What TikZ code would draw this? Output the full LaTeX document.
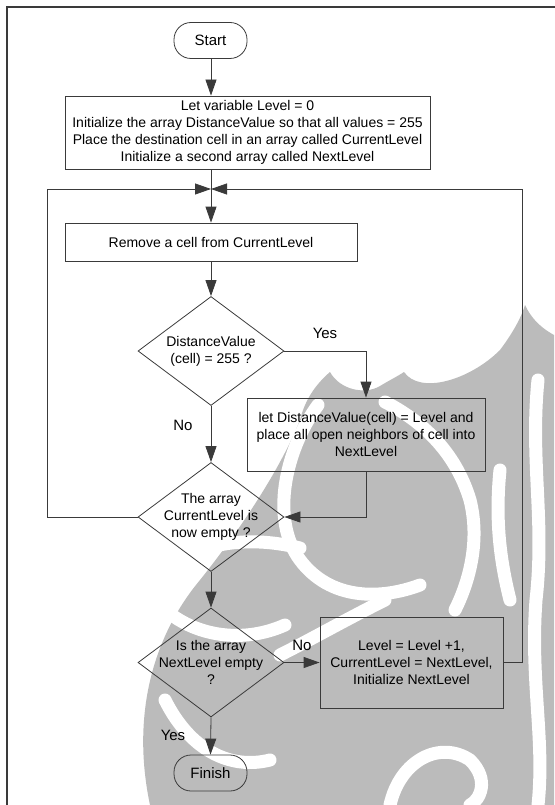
\documentclass[tikz,border=0pt]{standalone}
\usepackage{fontspec}
\setmainfont{Liberation Sans}
\usetikzlibrary{shapes.geometric,arrows.meta}
\definecolor{ln}{HTML}{3A3A3A}
\definecolor{wm}{HTML}{BBBBBB}
\tikzset{
  box/.style={draw=ln, line width=0.8pt, rectangle, inner sep=2pt, align=center, font=\fontsize{14}{16.8}\selectfont},
  term/.style={draw=ln, line width=0.8pt, rectangle, rounded corners=17pt, minimum width=73pt, minimum height=36pt, inner sep=0pt, font=\fontsize{15}{18}\selectfont},
  dec/.style={draw=ln, line width=0.8pt, diamond, minimum width=146pt, minimum height=109pt, inner sep=0pt},
  dectext/.style={align=center, inner sep=0pt, font=\fontsize{14}{17}\selectfont},
  lbl/.style={font=\fontsize{15}{18}\selectfont, inner sep=0pt},
  conn/.style={draw=ln, line width=0.8pt},
  arr/.style={conn, -{Triangle[length=16pt,width=11pt]}},
  stripe/.style={draw=white, line width=13pt, line cap=round},
}
\begin{document}
\begin{tikzpicture}[x=1pt,y=-1pt]
\useasboundingbox (0,0) rectangle (554,805);
% watermark (approximate)
\begin{scope}
\clip (0,0) rectangle (554,805);
\fill[wm] (150,805) .. controls (132,720) and (150,640) .. (200,580)
  .. controls (240,530) and (280,470) .. (300,420)
  .. controls (305,400) and (315,385) .. (330,372)
  .. controls (340,390) and (365,395) .. (380,386)
  .. controls (390,380) and (398,376) .. (404,372)
  .. controls (420,395) and (470,380) .. (500,350)
  .. controls (515,330) and (522,315) .. (525,305)
  .. controls (533,322) and (545,330) .. (554,335)
  -- (554,805) -- cycle;
\draw[stripe] (318,405) .. controls (285,450) and (270,520) .. (300,560) .. controls (330,600) and (380,600) .. (420,585);
\draw[stripe] (385,402) .. controls (420,420) and (455,450) .. (470,500) .. controls (480,540) and (470,580) .. (455,610);
\draw[stripe] (190,555) .. controls (220,540) and (260,538) .. (300,548);
\draw[stripe] (160,605) .. controls (190,635) and (240,645) .. (285,625);
\draw[stripe] (280,655) .. controls (310,640) and (345,620) .. (385,600);
\draw[stripe] (538,380) .. controls (530,460) and (545,520) .. (536,600) .. controls (530,680) and (545,740) .. (538,805);
\draw[stripe] (165,700) .. controls (190,750) and (230,770) .. (270,760);
\draw[stripe] (390,805) .. controls (400,760) and (440,740) .. (470,760) .. controls (490,780) and (480,800) .. (470,805);
\draw[stripe] (500,470) .. controls (495,520) and (500,560) .. (510,600);
\end{scope}
% frame
\draw[ln, line width=2pt] (7,820) -- (7,7) -- (570,7);

\node[term] (start) at (210.5,40.5) {Start};
\node[box, minimum width=365pt, minimum height=73pt] (init) at (247.5,132.5)
  {Let variable Level = 0\\Initialize the array DistanceValue so that all values = 255\\Place the destination cell in an array called CurrentLevel\\Initialize a second array called NextLevel};
\coordinate (m) at (211,189);
\coordinate (L) at (47,189);
\coordinate (R) at (522,189);
\node[box, minimum width=292pt, minimum height=38pt] (remove) at (211,242) {Remove a cell from CurrentLevel};
\node[dec] (d1) at (211,351) {};
\node[dectext] (d1t) at (d1.center) {DistanceValue\\(cell) = 255 ?};
\node[box, minimum width=238pt, minimum height=73pt] (b2) at (366,434.5)
  {let DistanceValue(cell) = Level and\\place all open neighbors of cell into\\NextLevel};
\node[dec] (d2) at (211,517) {};
\node[dectext] (d2t) at (d2.center) {The array\\CurrentLevel is\\now empty ?};
\node[dec] (d3) at (211,662.5) {};
\node[dectext] (d3t) at (d3.center) {Is the array\\NextLevel empty\\?};
\node[box, minimum width=183pt, minimum height=91pt] (b3) at (411.5,662.5)
  {Level = Level +1,\\CurrentLevel = NextLevel,\\Initialize NextLevel};
\node[term] (finish) at (210.5,773) {Finish};

% connectors
\draw[arr] (start.south -| m) -- (init.north -| m);
\draw[conn] (init.south -| m) -- (m);
\draw[arr] (m) -- (remove.north -| m);
\draw[arr] (remove.south -| m) -- (d1.north);
\draw[arr] (d1.east) -| (b2.north);
\draw[arr] (d1.south) -- (d2.north);
\draw[arr] (b2.south) |- (d2.east);
\draw[arr] (d2.west) -| (L) -- (m);
\draw[arr] (d2.south) -- (d3.north);
\draw[arr] (d3.east) -- (b3.west);
\draw[arr] (b3.east) -| (R) -- (m);
\draw[arr] (d3.south) -- (finish.north);

% labels
\node[lbl] (yes1) at (325,333) {Yes};
\node[lbl] (no1) at (183,425) {No};
\node[lbl] (no2) at (302,645) {No};
\node[lbl] (yes2) at (173,735) {Yes};
\end{tikzpicture}
\end{document}
